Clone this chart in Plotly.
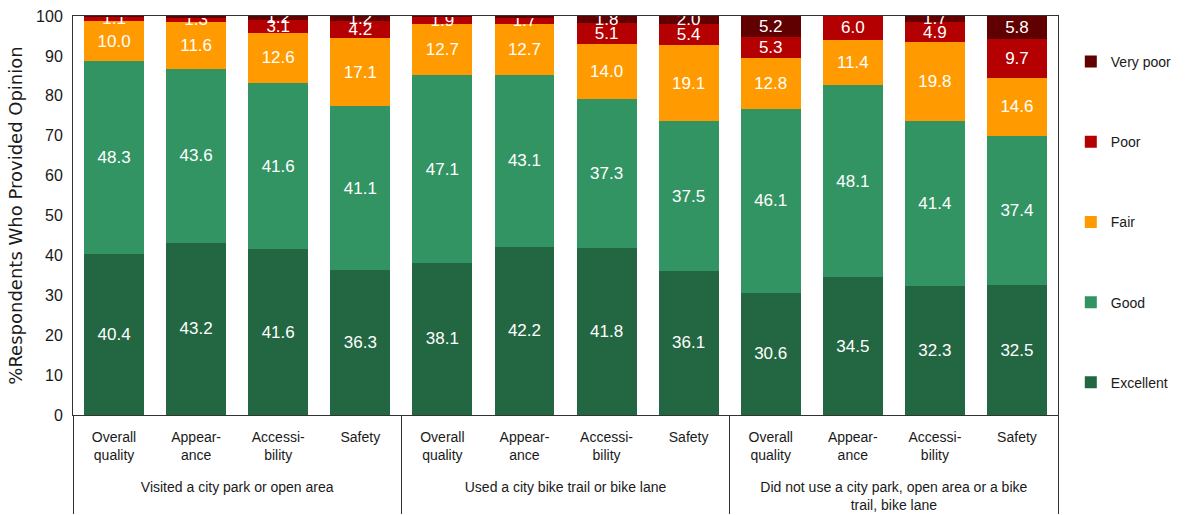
import plotly.graph_objects as go

groups = ["Visited a city park or open area"] * 4 + \
         ["Used a city bike trail or bike lane"] * 4 + \
         ["Did not use a city park, open area or a bike<br>trail, bike lane"] * 4
pad = "<br><span style='font-size:40px'> </span>"
aspects = ["Overall<br>quality" + pad, "Appear-<br>ance" + pad,
           "Accessi-<br>bility" + pad, "Safety<br> " + pad] * 3

excellent = [40.4, 43.2, 41.6, 36.3, 38.1, 42.2, 41.8, 36.1, 30.6, 34.5, 32.3, 32.5]
good = [48.3, 43.6, 41.6, 41.1, 47.1, 43.1, 37.3, 37.5, 46.1, 48.1, 41.4, 37.4]
fair = [10.0, 11.6, 12.6, 17.1, 12.7, 12.7, 14.0, 19.1, 12.8, 11.4, 19.8, 14.6]
poor = [1.1, 1.3, 3.1, 4.2, 1.9, 1.7, 5.1, 5.4, 5.3, 6.0, 4.9, 9.7]
very_poor = [0.2, 0.3, 1.2, 1.2, 0.2, 0.3, 1.8, 2.0, 5.2, 0.0, 1.7, 5.8]

series = [
    ("Excellent", excellent, "#226642"),
    ("Good", good, "#339463"),
    ("Fair", fair, "#FF9B00"),
    ("Poor", poor, "#B40000"),
    ("Very poor", very_poor, "#600000"),
]

FONT = "Liberation Sans, Arial, sans-serif"

fig = go.Figure()
for i, (name, vals, color) in enumerate(series):
    fig.add_trace(go.Bar(
        x=[groups, aspects],
        y=vals,
        name=name,
        legendgroup=name,
        legendrank=len(series) - i,
        marker=dict(color=color, line=dict(width=0)),
        text=[f"{v:.1f}" if v >= 1 else "" for v in vals],
        textposition="inside",
        insidetextanchor="middle",
        textangle=0,
        textfont=dict(color="white", size=17),
    ))

fig.update_layout(
    barmode="stack",
    bargap=0.27,
    width=1191, height=515,
    margin=dict(l=73, r=133, t=16, b=100),
    plot_bgcolor="white",
    paper_bgcolor="white",
    font=dict(family=FONT, size=14, color="#1a1a1a"),
    uniformtext=dict(minsize=17, mode="show"),
    legend=dict(
        x=1.013, y=0.925, yanchor="top",
        traceorder="grouped",
        tracegroupgap=59,
        font=dict(size=14),
        itemwidth=30,
    ),
    showlegend=True,
)

fig.update_yaxes(
    range=[0, 100], dtick=10, automargin=False,
    showgrid=False, showline=True, linecolor="#333", linewidth=1, mirror=True,
    ticks="", tickfont=dict(size=16), ticklabelstandoff=6,
    title=dict(text="%Respondents Who Provided Opinion",
               font=dict(family="DejaVu Sans", size=18), standoff=8),
)
fig.update_xaxes(
    automargin=False,
    showgrid=False, showline=True, linecolor="#333", linewidth=1, mirror=True,
    showdividers=True, dividercolor="#333", dividerwidth=1,
    tickfont=dict(size=14), ticklabelstandoff=9,
)

# drop the default 8px body margin so the figure sits at the page corner
fig.write_html("out.html", config={"displayModeBar": False},
               post_script="document.body.style.margin='0px';")
